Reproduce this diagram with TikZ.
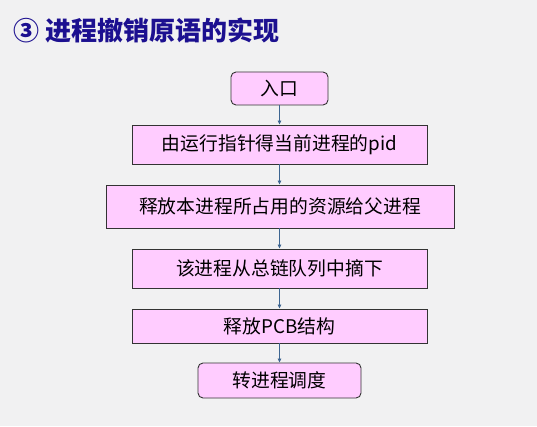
\documentclass[tikz,border=0pt]{standalone}
\usepackage{fontspec}
\setmainfont{Noto Sans CJK SC}
\usetikzlibrary{arrows.meta}
\definecolor{boxpink}{HTML}{FFCCFF}
\definecolor{titleblue}{HTML}{1C1090}
\definecolor{flowblue}{HTML}{3D6591}
\definecolor{bggrey}{HTML}{F1F1F2}

\begin{document}
\begin{tikzpicture}[x=1pt,y=1pt,
	stepbox/.style={draw=black!80, line width=0.9pt, fill=boxpink,
		minimum height=39pt, font=\fontsize{18.8}{20}\selectfont, inner sep=0pt},
	endbox/.style={stepbox, rounded corners=5pt},
	flow/.style={draw=flowblue, line width=0.8pt, -{Triangle[length=4pt,width=3.5pt]}}]
	\fill[bggrey] (0,0) rectangle (537,426);
	\useasboundingbox (0,0) rectangle (537,426);
	% title
	\node[anchor=west, text=titleblue, font=\fontsize{26}{28}\selectfont\bfseries] (title) at (10,396) {③ 进程撤销原语的实现};
	
	\node[endbox, minimum width=97pt, minimum height=33pt] (entry) at (279.5,337.5) {入口};
	\node[stepbox, minimum width=295pt] (getpid) at (279.5,281.5) {由运行指针得当前进程的pid};
	\node[stepbox, minimum width=348pt, minimum height=43pt] (release) at (280,219.5) {释放本进程所占用的资源给父进程};
	\node[stepbox, minimum width=295pt] (unlink) at (279.5,157.5) {该进程从总链队列中摘下};
	\node[stepbox, minimum width=295pt, minimum height=34pt] (freepcb) at (279.5,100) {释放PCB结构};
	\node[endbox, minimum width=163pt, minimum height=35pt] (sched) at (279.5,45.5) {转进程调度};
	
	\draw[flow] (entry) -- (getpid);
	\draw[flow] (getpid) -- (release.north -| getpid);
	\draw[flow] (release.south -| getpid) -- (unlink);
	\draw[flow] (unlink) -- (freepcb);
	\draw[flow] (freepcb) -- (sched);
\end{tikzpicture}
\end{document}
